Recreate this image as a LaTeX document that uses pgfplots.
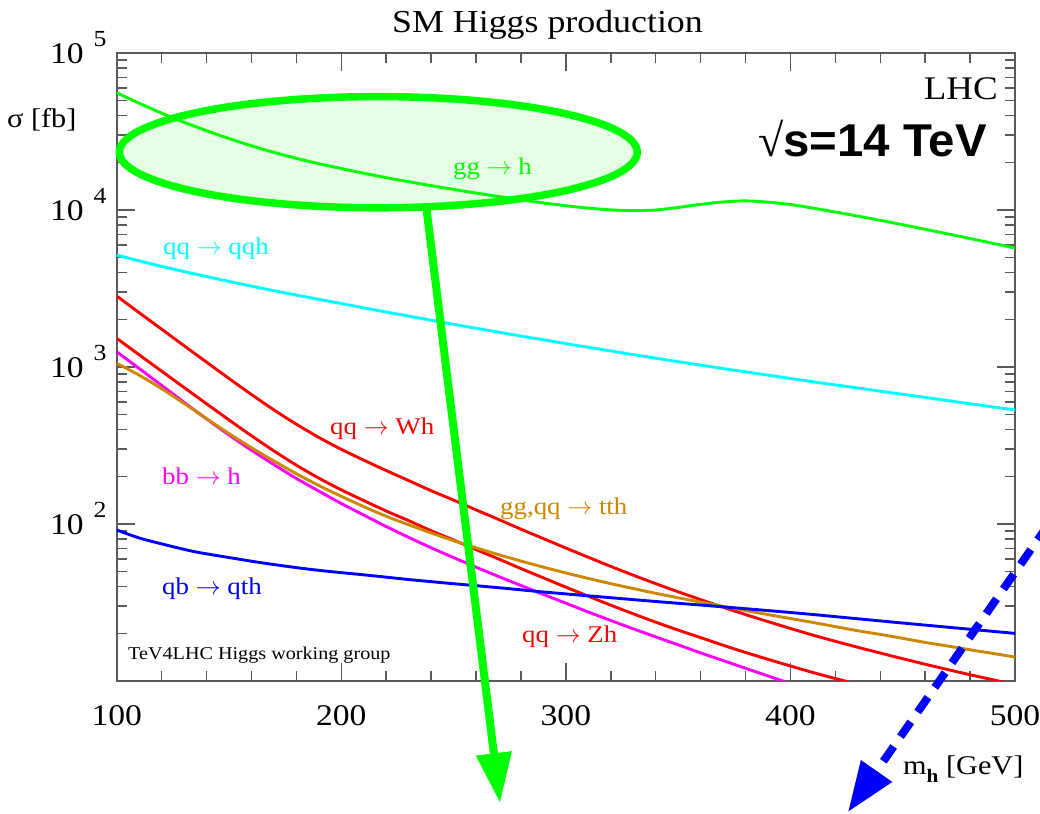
\documentclass[border=0pt]{standalone}
\usepackage{fontspec}
\setmainfont{Liberation Serif}[FakeStretch=1.12]
\newfontfamily\sansbold{Liberation Sans}[FakeStretch=1.03]
\newfontfamily\plainserif{Liberation Serif}
\usepackage{pgfplots}
\pgfplotsset{compat=1.18}
\usetikzlibrary{arrows.meta}
\definecolor{cgreen}{RGB}{0,255,0}
\definecolor{ccyan}{RGB}{0,255,255}
\definecolor{cred}{RGB}{255,0,0}
\definecolor{cmag}{RGB}{255,0,255}
\definecolor{cbrown}{RGB}{204,136,0}
\definecolor{cblue}{RGB}{0,0,255}
\definecolor{axgray}{RGB}{90,90,90}
\newcommand\lab{\fontsize{24}{24}\selectfont}
\newcommand\tl[1]{10\hspace{10pt}\raisebox{17pt}{\fontsize{23}{23}\selectfont #1}}
\begin{document}
\begin{tikzpicture}
\useasboundingbox (0pt,0pt) rectangle (1040pt,813pt);
\begin{axis}[
  at={(116.7pt,132pt)}, anchor=south west,
  width=898.3pt, height=628pt, scale only axis,
  xmin=100, xmax=500, ymin=10, ymax=1e5, ymode=log,
  xtick={100,200,300,400,500}, minor x tick num=4,
  xticklabels={100,200,300,400,500},
  ytick={10,100,1000,10000,100000},
  yticklabels={{},\tl{2},\tl{3},\tl{4},\tl{5}},
  major tick length=18pt, minor tick length=10pt,
  axis line style={axgray, line width=2pt},
  every tick/.append style={axgray, line width=1.5pt},
  tick label style={font=\fontsize{30}{30}\selectfont},
  xticklabel style={anchor=base, inner sep=0pt, yshift=-45pt},
  yticklabel style={anchor=base east, inner sep=0pt, xshift=-10pt, yshift=-11pt},
  every axis plot/.append style={line width=2.9pt, smooth},
]
% gg -> h
\addplot[cgreen] coordinates {(100,55850)(110,47860)(120,41400)(130,36220)(140,31990)(150,28510)(160,25640)(170,23280)(180,21330)(190,19720)(200,18370)(210,17140)(220,16070)(230,15140)(240,14290)(250,13520)(260,12820)(270,12190)(280,11610)(290,11090)(300,10640)(310,10280)(320,10020)(330,9910)(340,10000)(350,10380)(360,10860)(370,11250)(380,11430)(390,11220)(400,10840)(410,10280)(420,9705)(430,9141)(440,8590)(450,8054)(460,7534)(470,7047)(480,6577)(490,6138)(500,5728)};
% qq -> qqh
\addplot[ccyan] coordinates {(100,5164)(110,4742)(120,4375)(130,4055)(140,3767)(150,3507)(160,3274)(170,3062)(180,2871)(190,2698)(200,2535)(210,2383)(220,2239)(230,2109)(240,1986)(250,1871)(260,1766)(270,1667)(280,1574)(290,1489)(300,1409)(310,1334)(320,1265)(330,1199)(340,1138)(350,1081)(360,1028)(370,977)(380,931)(390,887)(400,845)(410,805)(420,769)(430,735)(440,701)(450,670)(460,640)(470,611)(480,583)(490,557)(500,533)};
% qq -> Wh
\addplot[cred] coordinates {(100,2831)(110,2218)(120,1741)(130,1366)(140,1074)(150,845)(160,668)(170,533)(180,432)(190,356)(200,299)(210,255)(220,219)(230,189)(240,163)(250,142)(260,123)(270,107)(280,92.7)(290,80.7)(300,70.3)(310,61.4)(320,53.7)(330,47.2)(340,41.7)(350,37.0)(360,33.0)(370,29.5)(380,26.5)(390,23.9)(400,21.6)(410,19.6)(420,17.9)(430,16.4)(440,15.07)(450,13.87)(460,12.79)(470,11.83)(480,10.96)(490,10.19)(500,9.48)};
% qq -> Zh
\addplot[cred] coordinates {(100,1523)(110,1196)(120,941)(130,740)(140,583)(150,460)(160,365)(170,292)(180,237)(190,196)(200,165)(210,141)(220,121)(230,105)(240,90.6)(250,79.1)(260,68.7)(270,59.9)(280,52.0)(290,45.4)(300,39.6)(310,34.7)(320,30.4)(330,26.8)(340,23.7)(350,21.1)(360,18.9)(370,16.9)(380,15.2)(390,13.75)(400,12.46)(410,11.33)(420,10.37)(430,9.53)(440,8.77)};
% bb -> h
\addplot[cmag] coordinates {(100,1250)(110,979)(120,764)(130,596)(140,467)(150,369)(160,295)(170,239)(180,195)(190,162)(200,135)(210,114)(220,96.4)(230,82.2)(240,70.6)(250,61.1)(260,53.1)(270,46.3)(280,40.6)(290,35.6)(300,31.3)(310,27.5)(320,24.3)(330,21.5)(340,19.1)(350,17.0)(360,15.1)(370,13.5)(380,12.05)(390,10.77)(400,9.64)(410,8.65)};
% gg,qq -> tth
\addplot[cbrown] coordinates {(100,1057)(110,887)(120,728)(130,586)(140,469)(150,377)(160,306)(170,252)(180,209)(190,176)(200,150)(210,129)(220,112)(230,98.9)(240,87.7)(250,78.3)(260,70.5)(270,63.8)(280,58.1)(290,53.1)(300,48.8)(310,45.0)(320,41.7)(330,38.8)(340,36.2)(350,33.9)(360,31.8)(370,29.9)(380,28.1)(390,26.5)(400,25.0)(410,23.6)(420,22.2)(430,20.9)(440,19.8)(450,18.7)(460,17.6)(470,16.7)(480,15.8)(490,15.0)(500,14.2)};
% qb -> qth
\addplot[cblue] coordinates {(100,91.6)(110,81.5)(122,73.5)(135,66.5)(152,60.5)(165,56.5)(182,52.3)(195,49.8)(211,47.3)(230,44.3)(248,41.9)(270,39.3)(290,36.9)(315,34.4)(340,32.1)(367,29.9)(404,27.0)(450,23.4)(500,20.1)};
\end{axis}
% texts
\node[anchor=base, inner sep=0pt, font=\fontsize{32}{32}\selectfont] at (547.5pt,780pt) {SM Higgs production};
\node[anchor=base east, inner sep=0pt, font=\fontsize{33}{33}\selectfont] at (998pt,713pt) {LHC};
\node[anchor=base east, inner sep=0pt] at (987pt,656pt) {{\fontsize{46}{46}\selectfont\plainserif √}{\fontsize{46}{46}\selectfont\sansbold\bfseries s=14 TeV}};
\node[anchor=base west, inner sep=0pt, font=\fontsize{27}{27}\selectfont] at (7pt,685pt) {σ [fb]};
\node[anchor=base west, inner sep=0pt, font=\fontsize{27}{27}\selectfont] at (903pt,38pt) {m\raisebox{-8pt}{\fontsize{19}{19}\selectfont\bfseries h} [GeV]};
\node[anchor=base west, inner sep=0pt, font=\fontsize{18}{18}\selectfont] at (128pt,153pt) {TeV4LHC Higgs working group};
\node[anchor=base west, inner sep=0pt, text=cgreen, font=\lab] at (453pt,638pt) {gg $\rightarrow$ h};
\node[anchor=base west, inner sep=0pt, text=ccyan, font=\lab] at (163pt,558pt) {qq $\rightarrow$ qqh};
\node[anchor=base west, inner sep=0pt, text=cred, font=\lab] at (330pt,378pt) {qq $\rightarrow$ Wh};
\node[anchor=base west, inner sep=0pt, text=cmag, font=\lab] at (162pt,328pt) {bb $\rightarrow$ h};
\node[anchor=base west, inner sep=0pt, text=cblue, font=\lab] at (162pt,218pt) {qb $\rightarrow$ qth};
\node[anchor=base west, inner sep=0pt, text=cbrown, font=\lab] at (500pt,298pt) {gg,qq $\rightarrow$ tth};
\node[anchor=base west, inner sep=0pt, text=cred, font=\lab] at (522pt,170pt) {qq $\rightarrow$ Zh};
% annotations
\draw[cgreen, line width=7.5pt, fill=cgreen, fill opacity=0.1] (378.3pt,660.8pt) ellipse [x radius=259pt, y radius=55.6pt];
\draw[cgreen, line width=8pt, -{Triangle[length=50pt,width=34pt]}] (426pt,608pt) -- (500pt,10pt);
\draw[cblue, line width=8pt, dash pattern=on 18pt off 12pt, -{Triangle[length=50pt,width=36pt]}] (1048pt,288pt) -- (848pt,1pt);
\end{tikzpicture}
\end{document}
